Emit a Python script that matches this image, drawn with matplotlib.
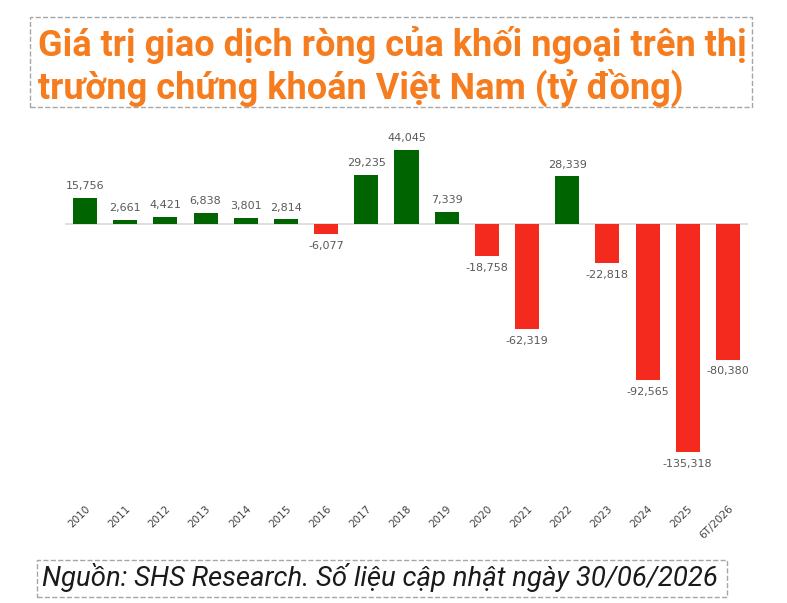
import matplotlib.pyplot as plt
from matplotlib.patches import Rectangle

# du lieu
nam = ['2010', '2011', '2012', '2013', '2014', '2015', '2016', '2017', '2018',
       '2019', '2020', '2021', '2022', '2023', '2024', '2025', '6T/2026']
gia_tri = [15756, 2661, 4421, 6838, 3801, 2814, -6077, 29235, 44045,
           7339, -18758, -62319, 28339, -22818, -92565, -135318, -80380]

XANH = '#006400'
DO = '#F52A1E'
CAM = '#F57C1F'
XAM = '#595959'

fig = plt.figure(figsize=(7.87, 6.03), dpi=100)
W, H = 787, 603

ax = fig.add_axes([65 / W, 1 - 470 / H, 683 / W, 330 / H])
x = list(range(len(nam)))
mau = [XANH if v >= 0 else DO for v in gia_tri]
ax.bar(x, gia_tri, width=0.6, color=mau, zorder=2)
ax.axhline(0, color='#D9D9D9', lw=1.2, zorder=1)

for xi, v in zip(x, gia_tri):
    if v >= 0:
        ax.annotate(f'{v:,}', (xi, v), xytext=(0, 5), textcoords='offset points',
                    ha='center', va='bottom', fontsize=8, color=XAM)
    else:
        ax.annotate(f'{v:,}', (xi, v), xytext=(0, -5), textcoords='offset points',
                    ha='center', va='top', fontsize=8, color=XAM)

ax.set_xlim(-0.5, len(nam) - 0.5)
ax.set_ylim(-146000, 50000)
ax.set_yticks([])
ax.set_xticks(x)
ax.set_xticklabels(nam, rotation=45, ha='right', rotation_mode='anchor',
                   fontsize=7.5, color='#404040')
ax.tick_params(axis='x', length=0, pad=24)
for s in ax.spines.values():
    s.set_visible(False)

# tieu de
fig.text(38 / W, 1 - 45 / H, 'Giá trị giao dịch ròng của khối ngoại trên thị',
         fontsize=26, fontweight='bold', family='Roboto', color=CAM, va='center')
fig.text(38 / W, 1 - 88 / H, 'trường chứng khoán Việt Nam (tỷ đồng)',
         fontsize=26, fontweight='bold', family='Roboto', color=CAM, va='center')
fig.add_artist(Rectangle((30 / W, 1 - 107 / H), 722 / W, 90 / H,
                         transform=fig.transFigure, fill=False,
                         edgecolor='#A6A6A6', ls='--', lw=1))

# nguon
fig.text(42 / W, 1 - 578 / H, 'Nguồn: SHS Research. Số liệu cập nhật ngày 30/06/2026',
         fontsize=19.8, fontstyle='italic', family='Roboto', color='#1A1A1A', va='center')
fig.add_artist(Rectangle((37 / W, 1 - 597 / H), 690 / W, 37 / H,
                         transform=fig.transFigure, fill=False,
                         edgecolor='#A6A6A6', ls='--', lw=1))

fig.savefig('out.png', dpi=100)
